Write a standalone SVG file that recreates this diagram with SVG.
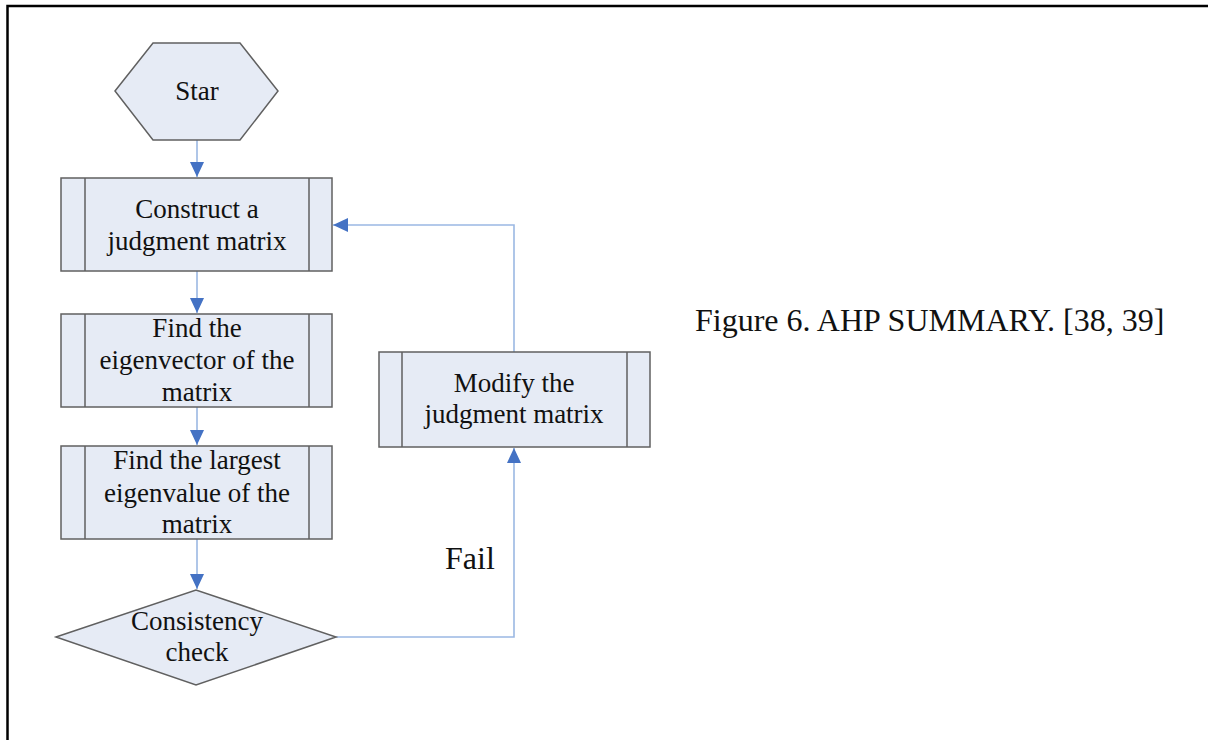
<svg xmlns="http://www.w3.org/2000/svg" width="1208" height="740" viewBox="0 0 1208 740">
<style>
.shape{fill:#e6ebf5;stroke:#606060;stroke-width:1.5}
.inner{stroke:#606060;stroke-width:1.5;fill:none}
.conn{fill:none;stroke:#9bb8e3;stroke-width:1.6}
.t{font-family:"Liberation Serif","Times New Roman",serif;font-size:27px;fill:#111;text-anchor:middle}
.big{font-family:"Liberation Serif","Times New Roman",serif;font-size:32px;fill:#111}
</style>
<defs>
<marker id="ah" markerUnits="userSpaceOnUse" markerWidth="16" markerHeight="16" viewBox="0 0 16 14" refX="15" refY="7" orient="auto">
<path d="M0,0 L15,7 L0,14 Z" fill="#4472c4"/>
</marker>
</defs>
<rect width="1208" height="740" fill="#fff"/>
<path d="M7.5,740 V6 H1208" fill="none" stroke="#000" stroke-width="2.5"/>
<g id="connectors">
<path class="conn" d="M197,140 V177" marker-end="url(#ah)"/>
<path class="conn" d="M197,271 V313" marker-end="url(#ah)"/>
<path class="conn" d="M197,407 V445" marker-end="url(#ah)"/>
<path class="conn" d="M197,539 V589" marker-end="url(#ah)"/>
<path class="conn" d="M336,637 H514 V448" marker-end="url(#ah)"/>
<path class="conn" d="M514,352 V225 H333" marker-end="url(#ah)"/>
</g>
<g id="start">
<polygon class="shape" points="115,91 153,43 240,43 278,91 240,140 153,140"/>
<text class="t" x="197" y="100">Star</text>
</g>
<g id="construct">
<rect class="shape" x="61" y="178" width="271" height="93"/>
<path class="inner" d="M85,178 V271 M309,178 V271"/>
<text class="t" x="197" y="218">Construct a</text>
<text class="t" x="197" y="250">judgment matrix</text>
</g>
<g id="eigenvector">
<rect class="shape" x="61" y="314" width="271" height="93"/>
<path class="inner" d="M85,314 V407 M309,314 V407"/>
<text class="t" x="197" y="337">Find the</text>
<text class="t" x="197" y="369">eigenvector of the</text>
<text class="t" x="197" y="401">matrix</text>
</g>
<g id="eigenvalue">
<rect class="shape" x="61" y="446" width="271" height="93"/>
<path class="inner" d="M85,446 V539 M309,446 V539"/>
<text class="t" x="197" y="469">Find the largest</text>
<text class="t" x="197" y="502">eigenvalue of the</text>
<text class="t" x="197" y="533">matrix</text>
</g>
<g id="consistency">
<polygon class="shape" points="56,637 196,590 336,637 196,685"/>
<text class="t" x="197" y="630">Consistency</text>
<text class="t" x="197" y="661">check</text>
</g>
<g id="modify">
<rect class="shape" x="379" y="352" width="271" height="95"/>
<path class="inner" d="M402,352 V447 M627,352 V447"/>
<text class="t" x="514" y="392">Modify the</text>
<text class="t" x="514" y="423">judgment matrix</text>
</g>
<g id="labels">
<text class="big" x="445" y="569">Fail</text>
<text class="big" x="695" y="331">Figure 6. AHP SUMMARY. [38, 39]</text>
</g>
</svg>
